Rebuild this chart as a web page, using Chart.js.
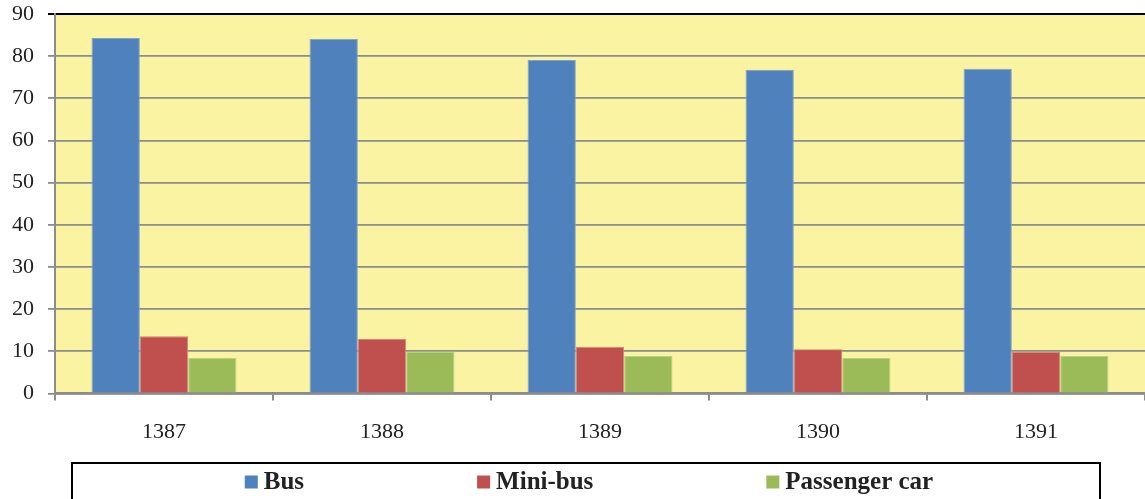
<!DOCTYPE html>
<html>
<head>
<meta charset="utf-8">
<script src="https://cdn.jsdelivr.net/npm/chart.js@4/dist/chart.umd.min.js"></script>
<style>
  html, body { margin: 0; padding: 0; background: #fff; }
  #wrap { width: 1145px; height: 499px; }
</style>
</head>
<body>
<div id="wrap"><canvas id="chart"></canvas></div>
<script>
'use strict';

/* ── Data ── */
const years       = ['1387', '1388', '1389', '1390', '1391'];
const busVals     = [84.3, 84.1, 79.1, 76.8, 77.0];
const miniBusVals = [13.6, 12.9, 11.1, 10.5, 9.9];
const carVals     = [8.5, 9.9, 8.9, 8.4, 8.9];
const yTicks      = [0, 10, 20, 30, 40, 50, 60, 70, 80, 90];

/* ── Theme ── */
const C = {
  bus:   '#4F81BD',
  mini:  '#C0504D',
  car:   '#9BBB59',
  plot:  '#FAF3A2',
  grid:  '#8C8C8C',
  text:  '#222222',
};
const SERIF = "'Liberation Serif', 'Times New Roman', serif";

/* plot area background */
const plotBg = {
  id: 'plotBg',
  beforeDraw(chart) {
    const { ctx, chartArea: a } = chart;
    ctx.save();
    ctx.fillStyle = C.plot;
    ctx.fillRect(a.left, a.top, a.right - a.left, a.bottom - a.top);
    ctx.restore();
  },
};

/* boxed legend under the x axis */
const boxLegend = {
  id: 'boxLegend',
  afterDraw(chart) {
    const { ctx } = chart;
    const box = { left: 72, right: 1100, top: 463 };
    const midY = 482;
    const sq = 13, gapIn = 6, gapOut = 173;

    ctx.save();
    ctx.strokeStyle = '#000';
    ctx.lineWidth = 2;
    ctx.strokeRect(box.left, box.top, box.right - box.left, 60);

    ctx.font = `bold 25px ${SERIF}`;
    const items = chart.data.datasets.map(ds => ({
      text: ds.label, color: ds.backgroundColor, w: ctx.measureText(ds.label).width,
    }));
    const total = items.reduce((s, it) => s + sq + gapIn + it.w, 0) + gapOut * (items.length - 1);
    let x = (box.left + box.right) / 2 - total / 2 + 3;

    ctx.textBaseline = 'middle';
    ctx.textAlign = 'left';
    items.forEach(it => {
      ctx.fillStyle = it.color;
      ctx.fillRect(x, midY - sq / 2, sq, sq);
      x += sq + gapIn;
      ctx.fillStyle = C.text;
      ctx.fillText(it.text, x, midY + 1);
      x += it.w + gapOut;
    });
    ctx.restore();
  },
};

new Chart(document.getElementById('chart'), {
  type: 'bar',
  data: {
    labels: years,
    datasets: [
      { label: 'Bus',           data: busVals,     backgroundColor: C.bus,  borderColor: '#7FA3D0', borderWidth: 1 },
      { label: 'Mini-bus',      data: miniBusVals, backgroundColor: C.mini, borderColor: '#D98280', borderWidth: 1 },
      { label: 'Passenger car', data: carVals,     backgroundColor: C.car,  borderColor: '#B7D08A', borderWidth: 1 },
    ],
  },
  options: {
    responsive: true,
    maintainAspectRatio: false,
    animation: false,
    layout: { padding: { top: 14, right: 0, bottom: 56, left: 0 } },
    categoryPercentage: 0.665,
    barPercentage: 1.0,
    plugins: {
      legend: { display: false },
      tooltip: { enabled: false },
    },
    scales: {
      x: {
        grid: {
          offset: true,
          drawOnChartArea: false,
          drawTicks: true,
          tickLength: 7,
          color: C.grid,
          lineWidth: 2,
        },
        border: { color: C.grid, width: 2.5 },
        ticks: { color: C.text, font: { family: SERIF, size: 22 }, padding: 19 },
        afterFit(scale) { scale.height = 49.5; scale.paddingLeft = 0; scale.paddingRight = 0; },
      },
      y: {
        min: 0,
        max: 90,
        afterBuildTicks(scale) { scale.ticks = yTicks.map(v => ({ value: v })); },
        grid: {
          tickLength: 7,
          color: ctx => (ctx.tick && ctx.tick.value === 90 ? '#000' : C.grid),
          lineWidth: ctx => (ctx.tick && ctx.tick.value === 90 ? 2 : 1.8),
        },
        border: { color: C.grid, width: 2 },
        ticks: { color: C.text, font: { family: SERIF, size: 22 }, padding: 14 },
        afterFit(scale) { scale.width = 55; scale.paddingTop = 0; scale.paddingBottom = 0; },
      },
    },
  },
  plugins: [plotBg, boxLegend],
});
</script>
</body>
</html>
